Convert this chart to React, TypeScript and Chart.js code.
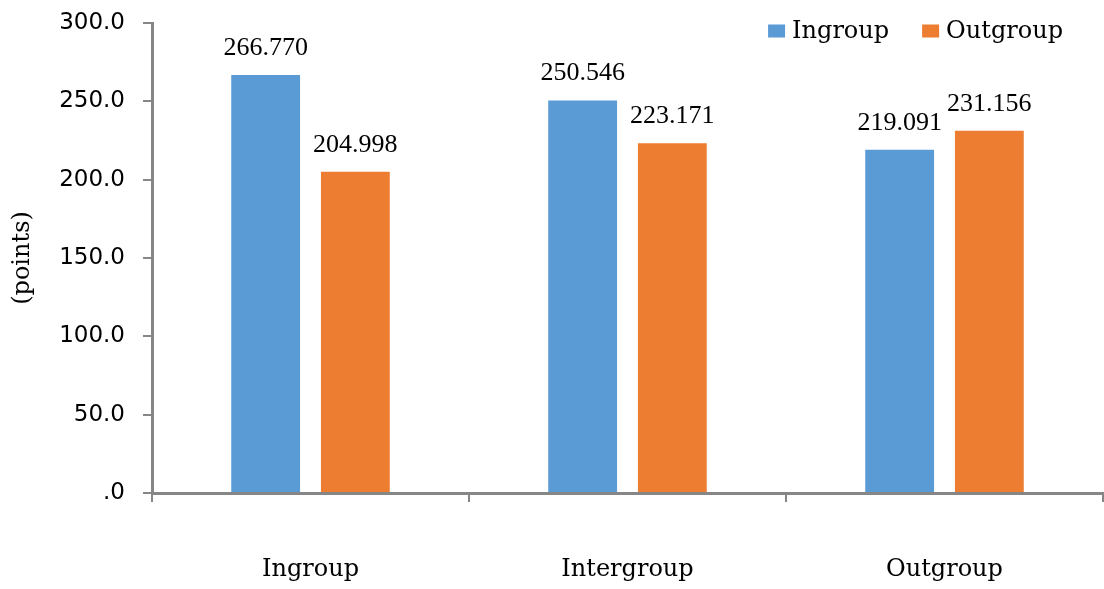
import React, { useEffect, useRef } from "react";
import { Chart, registerables } from "chart.js";

Chart.register(...registerables);

const categories = ["Ingroup", "Intergroup", "Outgroup"];
const seriesNames = ["Ingroup", "Outgroup"];
const ingroupValues = [266.77, 250.546, 219.091];
const outgroupValues = [204.998, 223.171, 231.156];
const yTicks = [0, 50, 100, 150, 200, 250, 300];
const colors = ["#5B9BD5", "#ED7D31"];
const axisColor = "#868686";
const serifCat = "'DejaVu Serif', serif";

const dataLabelPlugin = {
  id: "dataLabels",
  afterDatasetsDraw(chart: any) {
    const ctx = chart.ctx;
    ctx.save();
    ctx.font = "26px 'Liberation Serif', serif";
    ctx.fillStyle = "#000";
    ctx.textAlign = "center";
    ctx.textBaseline = "alphabetic";
    chart.data.datasets.forEach((ds: any, di: number) => {
      const meta = chart.getDatasetMeta(di);
      meta.data.forEach((el: any, i: number) => {
        ctx.fillText(Number(ds.data[i]).toFixed(3), el.x, el.y - 20);
      });
    });
    ctx.restore();
  },
};

const legendPlugin = {
  id: "customLegend",
  afterDraw(chart: any) {
    const ctx = chart.ctx;
    const area = chart.chartArea;
    ctx.save();
    ctx.font = "24px " + serifCat;
    ctx.textBaseline = "middle";
    ctx.textAlign = "left";
    const boxW = 17;
    const boxH = 13;
    const gapText = 7;
    const gapItem = 33;
    const items = chart.data.datasets.map((ds: any) => ({
      label: ds.label,
      color: ds.backgroundColor,
      w: boxW + gapText + ctx.measureText(ds.label).width,
    }));
    const total = items.reduce((s: number, it: any) => s + it.w, 0) + gapItem * (items.length - 1);
    let x = area.right - 40 - total;
    const cy = area.top + 8;
    items.forEach((it: any) => {
      ctx.fillStyle = it.color;
      ctx.fillRect(x, cy - boxH / 2, boxW, boxH);
      ctx.fillStyle = "#000";
      ctx.fillText(it.label, x + boxW + gapText, cy + 1);
      x += it.w + gapItem;
    });
    ctx.restore();
  },
};

export default function App() {
  const ref = useRef<HTMLCanvasElement>(null);
  useEffect(() => {
    if (!ref.current) return;
    const chart = new Chart(ref.current, {
      type: "bar",
      data: {
        labels: categories,
        datasets: [
          { label: seriesNames[0], data: ingroupValues, backgroundColor: colors[0] },
          { label: seriesNames[1], data: outgroupValues, backgroundColor: colors[1] },
        ],
      },
      options: {
        animation: false,
        responsive: true,
        maintainAspectRatio: false,
        layout: { padding: { top: 23, right: 1, bottom: 0, left: 0 } },
        datasets: {
          bar: { categoryPercentage: 0.566, barPercentage: 0.767 },
        },
        plugins: {
          legend: { display: false },
          tooltip: { enabled: false },
        },
        scales: {
          x: {
            afterFit(scale: any) {
              scale.height = 96;
            },
            grid: {
              offset: true,
              drawOnChartArea: false,
              drawTicks: true,
              tickLength: 9,
              color: axisColor,
              lineWidth: 2,
            },
            border: { display: true, color: axisColor, width: 3 },
            ticks: {
              color: "#000",
              font: { family: serifCat, size: 24 },
              padding: 53,
            },
          },
          y: {
            min: 0,
            max: 300,
            afterFit(scale: any) {
              scale.width = 152;
              scale.paddingTop = 0;
              scale.paddingBottom = 0;
            },
            afterBuildTicks(scale: any) {
              scale.ticks = yTicks.map((v) => ({ value: v }));
            },
            grid: {
              drawOnChartArea: false,
              drawTicks: true,
              tickLength: 9,
              color: axisColor,
              lineWidth: 2,
            },
            border: { display: true, color: axisColor, width: 3 },
            ticks: {
              color: "#000",
              font: { family: "'DejaVu Sans', sans-serif", size: 23 },
              padding: 18,
              callback: (v: any) => {
                const s = Number(v).toFixed(1);
                return s.startsWith("0") ? s.slice(1) : s;
              },
            },
            title: {
              display: true,
              text: "(points)",
              color: "#000",
              font: { family: serifCat, size: 24 },
              padding: { top: 8, bottom: 0 },
            },
          },
        },
      },
      plugins: [dataLabelPlugin, legendPlugin],
    });
    return () => chart.destroy();
  }, []);
  return (
    <div style={{ position: "fixed", left: 0, top: 0, width: 1104, height: 589, background: "#fff" }}>
      <canvas ref={ref} />
    </div>
  );
}
